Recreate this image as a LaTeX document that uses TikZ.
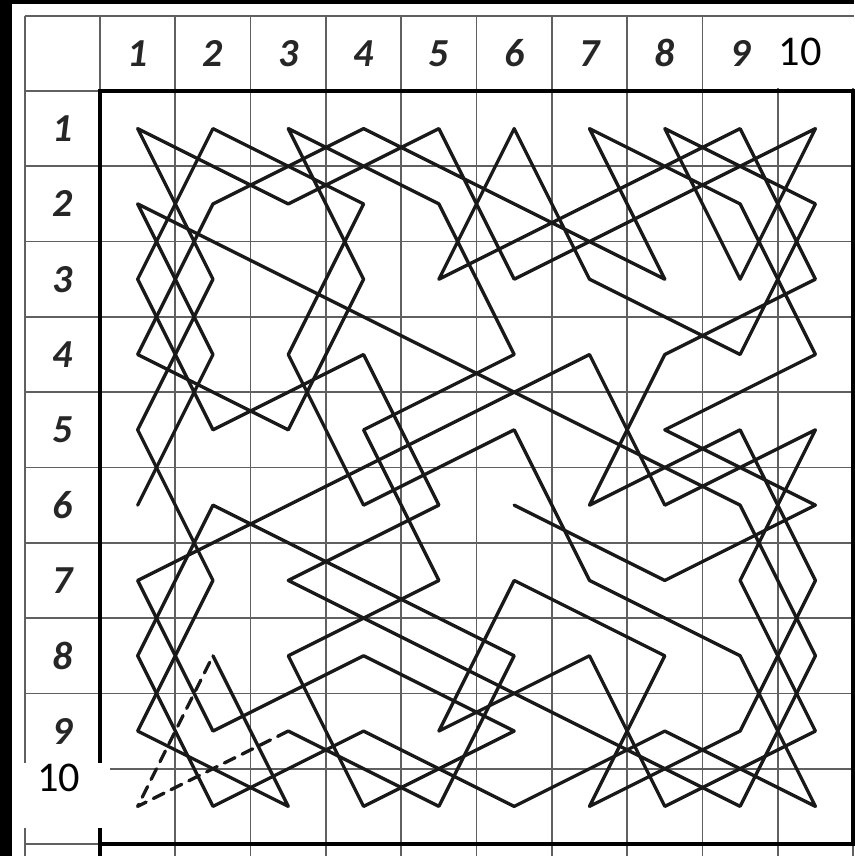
\documentclass[tikz,border=0pt]{standalone}
\usepackage{fontspec}
\newfontfamily\boxfont{Carlito}
\usetikzlibrary{calc}

\begin{document}
\begin{tikzpicture}[x=1cm, y=-1cm,
    gridline/.style={gray!75!black, line width=0.65pt},
    border/.style={black, line width=1.4pt},
    tour/.style={black!90, line width=1.25pt, line join=round, line cap=round},
    hint/.style={tour, dash pattern=on 4.5pt off 3pt},
    headlabel/.style={font=\fontsize{15}{17}\selectfont\boxfont\bfseries\itshape, text=black!85},
    numbox/.style={font=\fontsize{16}{18}\selectfont\boxfont}]

  % --- page: black scan edge on the left and on top ---
  \useasboundingbox (-1.328,-1.208) rectangle (10.013,10.159);
  \fill[black] (-1.328,-1.208) rectangle (10.013,10.159);
  \fill[white] (-1.169,-1.155) rectangle (10.013,10.159);

  % --- table: one header row, one label column, 10 x 10 body ---
  \foreach \i in {-1,...,10}
    \draw[gridline] (\i,-1) -- (\i,10.159);
  \foreach \j in {-1,...,10}
    \draw[gridline] (-1,\j) -- (10.013,\j);
  \draw[border] (0,10.159) -- (0,0) -- (10,0) -- (10,10) -- (0,10);

  % --- labels 1..9 ---
  \foreach \col in {1,...,9}
    \node[headlabel] (h\col) at (\col-0.5,-0.5) {\col};
  \foreach \row in {1,...,9}
    \node[headlabel] (v\row) at (-0.5,\row-0.5) {\row};

  % --- pasted boxes with 10 ---
  \fill[white] (8.91,-0.98) rectangle (10.013,-0.04);
  \node[numbox] (h10) at (9.30,-0.52) {10};
  \fill[white] (-1.169,8.92) rectangle (0.13,9.79);
  \node[numbox] (v10) at (-0.55,9.12) {10};

  % --- cell centres p<col>-<row> ---
  \foreach \col in {1,...,10}
    \foreach \row in {1,...,10}
      \coordinate (p\col-\row) at (\col-0.5,\row-0.5);

  % --- knight's path, first part ---
  \draw[tour] (p1-6) -- (p2-4) -- (p1-2) -- (p3-3) -- (p5-4) -- (p7-5)
    -- (p9-6) -- (p10-8) -- (p9-10) -- (p7-9) -- (p5-8) -- (p3-7)
    -- (p5-6) -- (p4-4) -- (p2-5) -- (p1-3) -- (p2-1) -- (p4-2)
    -- (p3-4) -- (p4-6) -- (p6-5) -- (p7-7) -- (p9-8) -- (p10-10)
    -- (p8-9) -- (p6-10) -- (p4-9) -- (p2-10) -- (p1-8) -- (p2-6)
    -- (p4-7) -- (p6-8) -- (p5-10) -- (p3-9);

  % --- dashed hint ---
  \draw[hint] (p3-9) -- (p1-10) -- (p2-8);

  % --- knight's path, second part ---
  \draw[tour] (p2-8) -- (p3-10) -- (p1-9) -- (p2-7) -- (p1-5) -- (p2-3)
    -- (p1-1) -- (p3-2) -- (p5-1) -- (p6-3) -- (p8-2) -- (p10-1)
    -- (p9-3) -- (p8-1) -- (p10-2) -- (p9-4) -- (p7-3) -- (p6-1)
    -- (p5-3) -- (p7-2) -- (p9-1) -- (p10-3) -- (p8-4) -- (p7-6)
    -- (p9-5) -- (p10-7) -- (p9-9) -- (p7-10) -- (p8-8) -- (p6-7)
    -- (p5-9) -- (p7-8) -- (p8-10) -- (p10-9) -- (p9-7) -- (p10-5)
    -- (p8-6) -- (p7-4) -- (p5-5) -- (p3-6) -- (p1-7) -- (p2-9)
    -- (p4-8) -- (p6-9) -- (p4-10) -- (p3-8) -- (p5-7) -- (p4-5)
    -- (p6-4) -- (p5-2) -- (p3-1) -- (p4-3) -- (p3-5) -- (p1-4)
    -- (p2-2) -- (p4-1) -- (p6-2) -- (p8-3) -- (p7-1) -- (p9-2)
    -- (p10-4) -- (p8-5) -- (p10-6) -- (p8-7) -- (p6-6);

\end{tikzpicture}
\end{document}
